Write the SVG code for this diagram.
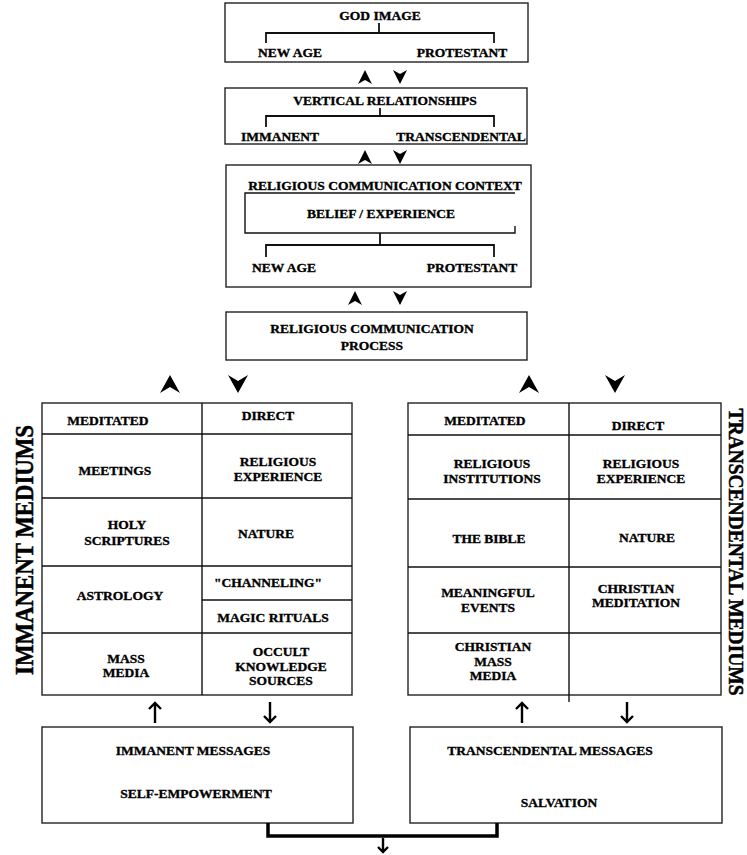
<svg xmlns="http://www.w3.org/2000/svg" width="747" height="855" viewBox="0 0 747 855">
<style>
.box{fill:#fff;stroke:#222;stroke-width:1.4}
.ln{fill:none;stroke:#111;stroke-width:1.4}
.br{fill:none;stroke:#111;stroke-width:1.8}
.t{font-family:"Liberation Serif","Times New Roman",serif;font-weight:bold;font-size:13.5px;fill:#000;stroke:#000;stroke-width:0.35;text-anchor:middle}
.side{font-family:"Liberation Serif","Times New Roman",serif;font-weight:bold;fill:#000;stroke:#000;stroke-width:0.5;text-anchor:middle}
.ah{fill:#000;stroke:none}
.arr{fill:none;stroke:#000;stroke-width:2.4}
.conn{fill:none;stroke:#000;stroke-width:3.5}
</style>
<rect width="747" height="855" fill="#fff"/>

<g id="god-image">
<rect class="box" x="225" y="3" width="303" height="59"/>
<text class="t" x="380" y="20">GOD IMAGE</text>
<path class="br" d="M379,23 V33 M266,43 V33 H494 V43"/>
<text class="t" x="290" y="57">NEW AGE</text>
<text class="t" x="462" y="57">PROTESTANT</text>
</g>

<g id="vertical-relationships">
<rect class="box" x="225" y="88" width="302" height="56"/>
<text class="t" x="385" y="105">VERTICAL RELATIONSHIPS</text>
<path class="br" d="M380,108 V116 M266,127 V116 H494 V127"/>
<text class="t" x="280" y="141">IMMANENT</text>
<text class="t" x="461" y="141">TRANSCENDENTAL</text>
</g>

<g id="communication-context">
<rect class="box" x="226" y="165" width="305" height="122"/>
<text class="t" x="385" y="190">RELIGIOUS COMMUNICATION CONTEXT</text>
<path class="ln" d="M515,226 V233 H245 V193 H515"/>
<text class="t" x="381" y="218">BELIEF / EXPERIENCE</text>
<path class="br" d="M380,233 V245 M266,257 V245 H494 V257"/>
<text class="t" x="284" y="272">NEW AGE</text>
<text class="t" x="472" y="272">PROTESTANT</text>
</g>

<g id="communication-process">
<rect class="box" x="226" y="312" width="301" height="48"/>
<text class="t" x="372" y="333">RELIGIOUS COMMUNICATION</text>
<text class="t" x="372" y="350">PROCESS</text>
</g>

<g id="immanent-mediums">
<rect class="box" x="42" y="403" width="310" height="292"/>
<path class="ln" d="M42,434 H352 M202,403 V695 M42,498 H352 M42,566 H352 M202,600 H352 M42,633 H352"/>
<text class="t" x="108" y="425">MEDITATED</text>
<text class="t" x="268" y="420">DIRECT</text>
<text class="t" x="115" y="475">MEETINGS</text>
<text class="t" x="278" y="466">RELIGIOUS</text>
<text class="t" x="278" y="481">EXPERIENCE</text>
<text class="t" x="127" y="529">HOLY</text>
<text class="t" x="127" y="545">SCRIPTURES</text>
<text class="t" x="266" y="538">NATURE</text>
<text class="t" x="120" y="600">ASTROLOGY</text>
<text class="t" x="268" y="587">"CHANNELING"</text>
<text class="t" x="273" y="622">MAGIC RITUALS</text>
<text class="t" x="126" y="663">MASS</text>
<text class="t" x="126" y="677">MEDIA</text>
<text class="t" x="281" y="656">OCCULT</text>
<text class="t" x="281" y="671">KNOWLEDGE</text>
<text class="t" x="281" y="685">SOURCES</text>
<text class="side" font-size="26" textLength="250" lengthAdjust="spacingAndGlyphs" transform="translate(33,550) rotate(-90)">IMMANENT MEDIUMS</text>
</g>

<g id="transcendental-mediums">
<rect class="box" x="408" y="403" width="313" height="292"/>
<path class="ln" d="M408,435 H721 M569,403 V702 M408,499 H721 M408,567 H721 M408,633 H721"/>
<text class="t" x="485" y="425">MEDITATED</text>
<text class="t" x="638" y="430">DIRECT</text>
<text class="t" x="492" y="468">RELIGIOUS</text>
<text class="t" x="492" y="483">INSTITUTIONS</text>
<text class="t" x="641" y="468">RELIGIOUS</text>
<text class="t" x="641" y="483">EXPERIENCE</text>
<text class="t" x="489" y="543">THE BIBLE</text>
<text class="t" x="647" y="542">NATURE</text>
<text class="t" x="488" y="597">MEANINGFUL</text>
<text class="t" x="488" y="612">EVENTS</text>
<text class="t" x="636" y="593">CHRISTIAN</text>
<text class="t" x="636" y="607">MEDITATION</text>
<text class="t" x="493" y="651">CHRISTIAN</text>
<text class="t" x="493" y="666">MASS</text>
<text class="t" x="493" y="680">MEDIA</text>
<text class="side" font-size="21" textLength="287" lengthAdjust="spacingAndGlyphs" transform="translate(729,552) rotate(90)">TRANSCENDENTAL MEDIUMS</text>
</g>

<g id="immanent-messages">
<rect class="box" x="42" y="727" width="311" height="96"/>
<text class="t" x="193" y="755">IMMANENT MESSAGES</text>
<text class="t" x="196" y="798">SELF-EMPOWERMENT</text>
</g>

<g id="transcendental-messages">
<rect class="box" x="410" y="727" width="312" height="96"/>
<text class="t" x="550" y="755">TRANSCENDENTAL MESSAGES</text>
<text class="t" x="559" y="807">SALVATION</text>
</g>

<g id="connectors">
<path class="ah" d="M365,70 L372,84 L365,80 L358,84 Z"/>
<path class="ah" d="M400,84 L407,70 L400,74 L393,70 Z"/>
<path class="ah" d="M365,150 L372,164 L365,160 L358,164 Z"/>
<path class="ah" d="M400,164 L407,150 L400,154 L393,150 Z"/>
<path class="ah" d="M355,291 L362,305 L355,301 L348,305 Z"/>
<path class="ah" d="M400,305 L407,291 L400,295 L393,291 Z"/>
<path class="ah" d="M170,375 L180,393 L170,387 L160,393 Z"/>
<path class="ah" d="M238,393 L248,375 L238,381 L228,375 Z"/>
<path class="ah" d="M529,375 L539,393 L529,387 L519,393 Z"/>
<path class="ah" d="M615,393 L625,375 L615,381 L605,375 Z"/>
<path class="arr" d="M155,723 V703 M149,709 L155,703 L161,709"/>
<path class="arr" d="M270,702 V722 M264,716 L270,722 L276,716"/>
<path class="arr" d="M522,723 V703 M516,709 L522,703 L528,709"/>
<path class="arr" d="M627,702 V722 M621,716 L627,722 L633,716"/>
<path class="conn" d="M268,823 V836 H497 V823"/>
<path class="arr" d="M383,838 V852 M378,847 L383,852 L388,847"/>
</g>
</svg>
